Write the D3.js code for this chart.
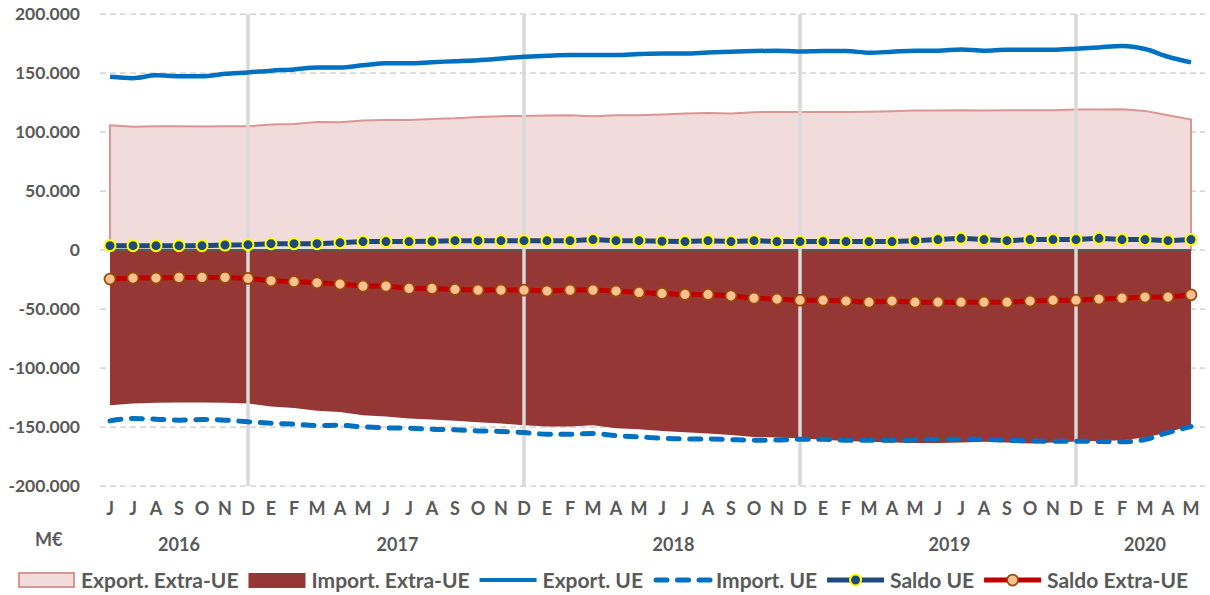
<!DOCTYPE html>
<html>
<head>
<meta charset="utf-8">
<script src="https://cdn.jsdelivr.net/npm/d3@7"></script>
<style>
  html, body { margin: 0; padding: 0; background: #ffffff; }
  svg { display: block; }
  text { font-family: Lato, "Open Sans", sans-serif; font-weight: bold; fill: #595959; }
</style>
</head>
<body>
<svg id="chart" width="1210" height="595"></svg>
<script>
// ---------- DATA (M€) ----------
const months = ["J","J","A","S","O","N","D",
  "E","F","M","A","M","J","J","A","S","O","N","D",
  "E","F","M","A","M","J","J","A","S","O","N","D",
  "E","F","M","A","M","J","J","A","S","O","N","D",
  "E","F","M","A","M"];
const years = ["2016","2017","2018","2019","2020"];
const yearSpans = [[0,6],[7,18],[19,30],[31,42],[43,47]];
const yTicks = [200000,150000,100000,50000,0,-50000,-100000,-150000,-200000];

const exportExtraUE = [105700,104500,104800,104800,104600,104800,104900,106300,106800,108400,108300,109700,
  110100,110200,111100,111600,112800,113400,113600,114000,114200,113400,114200,114200,
  114800,115700,116200,115700,116800,117000,117000,117000,117000,117200,117600,118200,
  118200,118500,118200,118500,118500,118500,119000,119000,119300,117900,114200,110600];
const importExtraUE = [-131500,-130100,-129500,-129200,-129200,-129500,-130100,-132600,-134000,-136300,-137200,-140000,
  -141100,-142800,-143700,-144800,-145900,-147100,-148500,-149600,-149600,-148500,-151000,-151900,
  -153300,-154400,-155600,-156700,-158400,-158900,-159500,-160900,-161800,-162600,-163200,-163500,
  -163500,-163200,-162600,-163200,-164000,-163200,-162300,-161800,-161200,-159000,-154700,-148500];
const exportUE = [146800,145600,148000,147200,147200,149300,150500,152000,153000,154700,154700,156500,
  158200,158200,159200,160000,160900,162300,163800,164600,165200,165200,165200,166000,
  166600,166600,167400,168000,168600,168900,168200,168600,168600,167200,168000,168900,
  168900,170000,168900,169700,169700,169700,170600,171700,172800,170300,163800,159000];
const importUE = [-144800,-142800,-143400,-144200,-143700,-144200,-145600,-146800,-147600,-148800,-148600,-149900,
  -150700,-151000,-151900,-152400,-153300,-153800,-154700,-156100,-156100,-155600,-157300,-158400,
  -159500,-160100,-160100,-160700,-161200,-161000,-160400,-160400,-161200,-161200,-161200,-161000,
  -160400,-160400,-160400,-161200,-161800,-162000,-162000,-162300,-162600,-160600,-154700,-149600];
const saldoUE = [3700,3700,3700,3700,3700,4200,4500,5400,5400,5400,6200,7100,
  7100,7100,7400,7900,7900,7900,7900,7900,7900,8800,7900,7900,
  7400,7100,7900,7100,7900,7100,7100,7100,7100,7100,7100,7900,
  8800,9900,8800,7900,8800,8800,8800,9900,8800,8800,7900,8800];
const saldoExtraUE = [-24600,-23800,-23800,-23200,-23200,-23200,-24100,-26100,-26900,-27800,-28900,-30600,
  -30600,-32600,-32600,-33400,-34000,-34000,-34000,-34800,-34000,-34000,-34800,-36000,
  -36800,-37700,-37700,-38800,-40800,-41600,-42500,-42500,-43300,-44200,-43300,-44200,
  -44200,-44200,-44200,-44200,-43300,-42500,-42500,-41600,-40800,-39900,-39900,-38000];
const separatorIdx = [6,18,30,42];
const legendLabels = ["Export. Extra-UE","Import. Extra-UE","Export. UE","Import. UE","Saldo UE","Saldo Extra-UE"];

// ---------- STYLE ----------
const C = {
  expXFill: "#f2dcdb", expXStroke: "#d99694",
  impXFill: "#953735",
  expUE: "#0070c0", impUE: "#0070c0",
  salUE: "#1f497d", salUEMarkStroke: "#ffff00",
  salX: "#c00000", salXMarkFill: "#fac090", salXMarkStroke: "#984807",
  grid: "#d9d9d9", sep: "#d9d9d9", axis: "#595959", text: "#595959"
};

const svg = d3.select("#chart");
svg.append("rect").attr("width",1210).attr("height",595).attr("fill","#fff");

const idx = d3.range(months.length);
const x = d3.scalePoint().domain(idx).range([110, 1191]);
const y = d3.scaleLinear().domain([-200000, 200000]).range([486, 14]);

const fmt = v => v === 0 ? "0" : d3.format(",")(v).replace(/,/g, ".").replace("−","-");

// gridlines
svg.append("g").selectAll("line").data(yTicks).join("line")
  .attr("x1", 100).attr("x2", 1205)
  .attr("y1", d => y(d)).attr("y2", d => y(d))
  .attr("stroke", C.grid).attr("stroke-width", 1.75).attr("stroke-dasharray", "6,4");

// y labels
svg.append("g").selectAll("text").data(yTicks).join("text")
  .attr("x", 80).attr("y", d => y(d)).attr("dy", "0.36em")
  .attr("text-anchor", "end").attr("font-size", "17.5px")
  .text(d => fmt(d));

// areas
const areaExp = d3.area().x((d,i) => x(i)).y0(y(0)).y1(d => y(d));
svg.append("path").datum(exportExtraUE).attr("d", areaExp)
  .attr("fill", C.expXFill).attr("stroke", C.expXStroke).attr("stroke-width", 2);
svg.append("path").datum(importExtraUE).attr("d", areaExp)
  .attr("fill", C.impXFill);

// zero line
svg.append("line").attr("x1", x(0)).attr("x2", x(months.length-1))
  .attr("y1", y(0)).attr("y2", y(0))
  .attr("stroke", C.axis).attr("stroke-width", 2);

// separators
svg.append("g").selectAll("line").data(separatorIdx).join("line")
  .attr("x1", d => x(d)).attr("x2", d => x(d))
  .attr("y1", y(200000)).attr("y2", y(-200000))
  .attr("stroke", C.sep).attr("stroke-width", 3.5);

// lines
const line = d3.line().x((d,i) => x(i)).y(d => y(d));
const smooth = d3.line().x((d,i) => x(i)).y(d => y(d)).curve(d3.curveMonotoneX);
svg.append("path").datum(exportUE).attr("d", smooth)
  .attr("fill", "none").attr("stroke", C.expUE).attr("stroke-width", 4.5).attr("stroke-linejoin","round");
svg.append("path").datum(importUE).attr("d", smooth)
  .attr("fill", "none").attr("stroke", C.impUE).attr("stroke-width", 5)
  .attr("stroke-dasharray", "11,10.5").attr("stroke-linecap", "round");

svg.append("path").datum(saldoUE).attr("d", line)
  .attr("fill", "none").attr("stroke", C.salUE).attr("stroke-width", 5);
svg.append("g").selectAll("circle").data(saldoUE).join("circle")
  .attr("cx", (d,i) => x(i)).attr("cy", d => y(d)).attr("r", 5.5)
  .attr("fill", C.salUE).attr("stroke", C.salUEMarkStroke).attr("stroke-width", 2);

svg.append("path").datum(saldoExtraUE).attr("d", line)
  .attr("fill", "none").attr("stroke", C.salX).attr("stroke-width", 5);
svg.append("g").selectAll("circle").data(saldoExtraUE).join("circle")
  .attr("cx", (d,i) => x(i)).attr("cy", d => y(d)).attr("r", 5.5)
  .attr("fill", C.salXMarkFill).attr("stroke", C.salXMarkStroke).attr("stroke-width", 1.75);

// month labels
svg.append("g").selectAll("text").data(months).join("text")
  .attr("x", (d,i) => x(i)).attr("y", 515)
  .attr("text-anchor", "middle").attr("font-size", "18px")
  .text(d => d);

// year labels
svg.append("g").selectAll("text").data(years).join("text")
  .attr("x", (d,i) => (x(yearSpans[i][0]) + x(yearSpans[i][1])) / 2).attr("y", 551)
  .attr("text-anchor", "middle").attr("font-size", "18px")
  .text(d => d);

// unit
svg.append("text").attr("x", 35).attr("y", 546).attr("font-size", "18px").text("M€");

// legend
const lg = svg.append("g");
const ly = 580;
let cx = 18;
const fsL = "21px";
legendLabels.forEach((lab, k) => {
  const sw = 57;
  if (k === 0) {
    lg.append("rect").attr("x", cx+1).attr("y", ly-7).attr("width", sw-2).attr("height", 14)
      .attr("fill", C.expXFill).attr("stroke", C.expXStroke).attr("stroke-width", 2);
  } else if (k === 1) {
    lg.append("rect").attr("x", cx).attr("y", ly-7).attr("width", sw).attr("height", 15)
      .attr("fill", C.impXFill);
  } else if (k === 2) {
    lg.append("line").attr("x1", cx).attr("x2", cx+sw).attr("y1", ly).attr("y2", ly)
      .attr("stroke", C.expUE).attr("stroke-width", 4);
  } else if (k === 3) {
    lg.append("line").attr("x1", cx+3).attr("x2", cx+sw).attr("y1", ly).attr("y2", ly)
      .attr("stroke", C.impUE).attr("stroke-width", 5).attr("stroke-dasharray", "11,10.5")
      .attr("stroke-linecap", "round");
  } else if (k === 4) {
    lg.append("line").attr("x1", cx).attr("x2", cx+sw).attr("y1", ly).attr("y2", ly)
      .attr("stroke", C.salUE).attr("stroke-width", 5);
    lg.append("circle").attr("cx", cx+sw/2).attr("cy", ly).attr("r", 5.5)
      .attr("fill", C.salUE).attr("stroke", C.salUEMarkStroke).attr("stroke-width", 2);
  } else {
    lg.append("line").attr("x1", cx).attr("x2", cx+sw).attr("y1", ly).attr("y2", ly)
      .attr("stroke", C.salX).attr("stroke-width", 5);
    lg.append("circle").attr("cx", cx+sw/2).attr("cy", ly).attr("r", 5.5)
      .attr("fill", C.salXMarkFill).attr("stroke", C.salXMarkStroke).attr("stroke-width", 1.75);
  }
  const t = lg.append("text").attr("x", cx + sw + 6).attr("y", ly + 7.5)
    .attr("font-size", fsL).text(lab);
  cx = cx + sw + 6 + t.node().getComputedTextLength() + 10;
});
</script>
</body>
</html>
